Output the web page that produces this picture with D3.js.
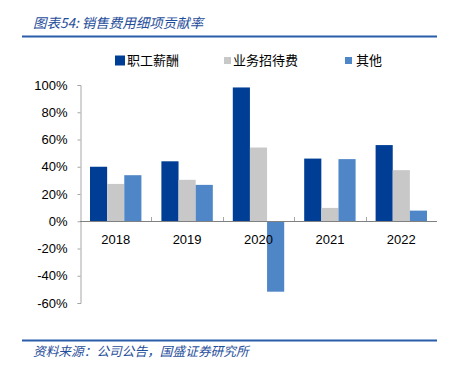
<!DOCTYPE html>
<html><head><meta charset="utf-8">
<script src="https://cdn.jsdelivr.net/npm/d3@7/dist/d3.min.js"></script>
<style>
html,body{margin:0;padding:0;background:#fff;}
svg{display:block;}
</style></head>
<body><svg id="c" width="458" height="366"></svg>
<script>
const categories = ["2018","2019","2020","2021","2022"];
const seriesNames = ["职工薪酬","业务招待费","其他"];
const salary = [40.0, 44.0, 98.2, 46.0, 55.9];
const entertainment = [27.4, 30.4, 54.1, 9.8, 37.5];
const other = [33.8, 26.7, -51.7, 45.6, 7.8];
const yTicks = [-60,-40,-20,0,20,40,60,80,100];
const title = "图表54:  销售费用细项贡献率";
const source = "资料来源：公司公告，国盛证券研究所";

const colors = ["#003E96","#C8C8C8","#4F86C7"];
const series = [salary, entertainment, other];

const svg = d3.select("#c");
const cjk = "'Noto Sans CJK SC', sans-serif";
const latin = "'Liberation Sans', Arial, sans-serif";
const blue = "#1F4E9B";

// title
svg.append("text").attr("x",33).attr("y",28).text(title)
  .attr("font-family",cjk).attr("font-size",13.5).attr("font-style","italic")
  .attr("fill",blue);
svg.append("line").attr("x1",22).attr("x2",437).attr("y1",36.5).attr("y2",36.5)
  .attr("stroke","#2A5CAA").attr("stroke-width",2);

// footer
svg.append("line").attr("x1",22).attr("x2",437).attr("y1",340.5).attr("y2",340.5)
  .attr("stroke","#2A5CAA").attr("stroke-width",2);
svg.append("text").attr("x",33).attr("y",356).text(source)
  .attr("font-family",cjk).attr("font-size",12.7).attr("font-style","italic")
  .attr("fill",blue);

// scales
const x0 = d3.scaleBand().domain(categories).range([80,437]).paddingInner(0.28).paddingOuter(0.14);
const x1 = d3.scaleBand().domain(d3.range(3)).range([0,x0.bandwidth()]);
const y = d3.scaleLinear().domain([-60,100]).range([303,85]);

// y axis
const yAxis = d3.axisLeft(y).tickValues(yTicks).tickFormat(d=>d+"%").tickSize(3).tickPadding(10);
const gy = svg.append("g").attr("transform","translate(80.5,0)").call(yAxis);
gy.select(".domain").attr("stroke","#A6A6A6");
gy.selectAll(".tick line").attr("stroke","#A6A6A6");
gy.selectAll(".tick text").attr("font-family",latin).attr("font-size",13).attr("fill","#000");

// bars
const groups = svg.append("g").selectAll("g").data(categories).join("g")
  .attr("transform",d=>`translate(${x0(d)},0)`);
groups.selectAll("rect").data((d,i)=>series.map((s,k)=>({k,v:s[i]}))).join("rect")
  .attr("x",d=>x1(d.k)).attr("width",x1.bandwidth())
  .attr("y",d=>y(Math.max(0,d.v))).attr("height",d=>Math.abs(y(d.v)-y(0)))
  .attr("fill",d=>colors[d.k]);

// x axis (zero line)
const xb = d3.scaleBand().domain(categories).range([80,437]);
svg.append("line").attr("x1",80).attr("x2",437).attr("y1",Math.round(y(0))+0.5).attr("y2",Math.round(y(0))+0.5)
  .attr("stroke","#808080");
svg.append("g").selectAll("line").data(categories.slice(1)).join("line")
  .attr("x1",d=>Math.round(xb(d))+0.5).attr("x2",d=>Math.round(xb(d))+0.5)
  .attr("y1",Math.round(y(0))-4).attr("y2",Math.round(y(0)))
  .attr("stroke","#A6A6A6");
svg.append("g").selectAll("text").data(categories).join("text")
  .attr("x",d=>xb(d)+xb.bandwidth()/2).attr("y",y(0)+23)
  .attr("text-anchor","middle").attr("font-family",latin).attr("font-size",13).text(d=>d);

// legend
const legend = [{x:115,s:10,tx:127},{x:224,s:7,tx:233},{x:345,s:7,tx:356}];
legend.forEach((l,i)=>{
  svg.append("rect").attr("x",l.x).attr("y",60.5-l.s/2).attr("width",l.s).attr("height",l.s).attr("fill",colors[i]);
  svg.append("text").attr("x",l.tx).attr("y",65).text(seriesNames[i])
    .attr("font-family",cjk).attr("font-size",13).attr("fill","#000");
});
</script></body></html>
